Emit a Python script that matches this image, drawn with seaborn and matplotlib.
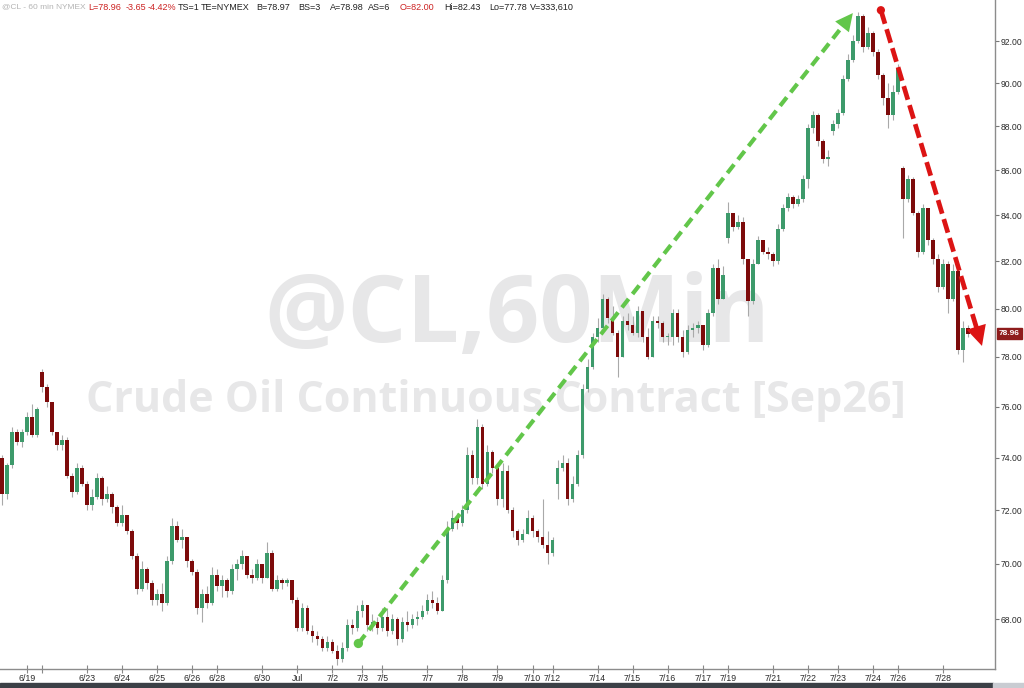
import numpy as np
import pandas as pd
import matplotlib
matplotlib.use("Agg")
import matplotlib.pyplot as plt
import matplotlib.transforms as mtransforms
from matplotlib.patches import Rectangle
import seaborn as sns

# ---------------- data ----------------
close = [72.6, 73.7, 75.0, 74.6, 75.0, 75.6, 74.9, 75.9, 76.8, 76.2,
         75.0, 74.5, 74.7, 73.3, 72.7, 73.6, 73.0, 72.2, 72.5, 73.2,
         72.4, 72.6, 72.1, 71.5, 71.8, 71.2, 70.3, 69.1, 69.8, 69.3,
         68.7, 68.9, 68.6, 70.1, 71.4, 70.9, 71.0, 70.1, 69.7, 68.4,
         68.9, 68.6, 69.6, 69.2, 69.4, 69.0, 69.8, 70.0, 70.3, 69.6,
         69.5, 70.0, 69.5, 70.4, 69.1, 69.4, 69.3, 69.4, 68.7, 67.7,
         68.4, 67.6, 67.4, 67.3, 67.0, 67.2, 66.9, 66.6, 67.0, 67.8,
         67.7, 68.3, 68.5, 67.8, 67.9, 67.7, 68.1, 67.6, 68.0, 67.3,
         67.9, 67.8, 68.0, 68.1, 68.3, 68.7, 68.6, 68.3, 69.4, 71.3,
         71.7, 71.5, 72.0, 74.1, 73.2, 75.2, 73.0, 74.2, 73.6, 72.4,
         73.5, 72.0, 71.2, 70.9, 71.1, 71.7, 71.2, 71.0, 70.7, 70.4,
         70.9, 73.6, 73.8, 72.4, 73.0, 74.1, 76.7, 77.6, 78.8, 79.2,
         80.4, 79.6, 79.0, 78.0, 79.5, 79.3, 79.0, 79.9, 78.8, 78.0,
         79.5, 79.4, 78.8, 78.8, 79.8, 78.8, 78.2, 79.1, 79.2, 79.3,
         78.5, 79.8, 81.7, 80.4, 81.4, 84.1, 83.5, 83.7, 82.1, 80.3,
         81.9, 82.9, 82.4, 82.3, 82.0, 83.4, 84.3, 84.8, 84.5, 84.7,
         85.6, 87.9, 88.5, 87.3, 86.5, 86.6, 88.1, 88.6, 90.2, 91.1,
         92.0, 93.2, 91.7, 92.4, 91.5, 90.4, 89.3, 88.5, 89.6, 90.7,
         84.7, 85.6, 84.1, 82.4, 84.3, 82.9, 82.1, 80.9, 81.9, 80.4,
         81.6, 78.3, 79.2, 78.96]
high = [74.1, 73.8, 75.2, 75.1, 75.1, 75.8, 76.1, 76.0, 77.5, 76.9,
        76.2, 75.0, 74.9, 74.8, 73.4, 73.8, 73.7, 73.1, 72.8, 73.4,
        73.3, 72.9, 72.7, 72.2, 72.2, 71.8, 71.3, 70.4, 70.1, 69.9,
        69.4, 69.1, 69.3, 70.3, 71.7, 71.6, 71.3, 71.0, 70.2, 69.8,
        69.1, 69.2, 69.9, 69.8, 69.6, 69.5, 70.0, 70.2, 70.5, 70.3,
        69.8, 70.2, 70.0, 70.8, 70.5, 69.6, 69.5, 69.5, 69.4, 68.8,
        68.6, 68.5, 67.8, 67.6, 67.4, 67.4, 67.3, 67.1, 67.2, 68.0,
        68.0, 68.5, 68.7, 68.5, 68.2, 68.1, 68.4, 68.4, 68.2, 68.1,
        68.1, 68.3, 68.2, 68.3, 68.5, 68.9, 69.0, 68.8, 69.6, 71.6,
        72.0, 71.9, 72.2, 74.4, 74.3, 75.5, 75.3, 74.5, 74.3, 73.7,
        73.8, 73.7, 72.1, 71.3, 71.3, 72.0, 71.8, 71.3, 72.4, 71.2,
        71.0, 73.9, 74.1, 74.0, 73.3, 74.3, 76.9, 77.9, 79.0, 79.6,
        80.6, 80.5, 80.1, 79.1, 79.7, 79.8, 79.7, 80.1, 79.9, 79.2,
        79.7, 79.7, 79.5, 79.0, 80.0, 80.0, 79.1, 79.3, 79.4, 79.5,
        79.3, 80.0, 81.9, 82.1, 81.8, 84.6, 84.0, 84.0, 83.9, 82.0,
        82.1, 83.1, 82.9, 82.6, 82.4, 83.6, 84.5, 85.0, 84.9, 84.9,
        85.8, 88.1, 88.7, 88.6, 87.4, 86.9, 88.3, 88.8, 90.4, 91.4,
        92.3, 93.4, 93.3, 92.7, 92.5, 91.6, 90.5, 90.0, 89.9, 90.9,
        86.2, 85.8, 85.7, 84.2, 84.5, 84.3, 83.0, 82.3, 82.1, 82.0,
        81.9, 81.7, 79.5, 79.3]
low = [72.2, 72.4, 73.6, 74.5, 74.4, 74.9, 74.8, 74.8, 76.6, 76.0,
       74.9, 74.3, 74.3, 73.2, 72.5, 72.6, 72.9, 72.0, 72.0, 72.4,
       72.2, 72.3, 71.9, 71.4, 71.4, 71.1, 70.2, 68.9, 69.0, 69.1,
       68.5, 68.5, 68.3, 68.5, 70.0, 70.8, 70.6, 69.9, 69.6, 68.2,
       67.9, 68.4, 68.5, 69.0, 68.8, 68.8, 68.9, 69.4, 69.8, 69.5,
       69.3, 69.4, 69.3, 69.5, 69.0, 69.0, 69.1, 69.2, 68.6, 67.6,
       67.6, 67.5, 67.2, 67.1, 66.9, 66.9, 66.8, 66.4, 66.5, 66.9,
       67.5, 67.6, 68.1, 67.6, 67.6, 67.5, 67.6, 67.4, 67.5, 67.1,
       67.2, 67.6, 67.7, 67.8, 68.0, 68.2, 68.4, 68.2, 68.3, 69.3,
       71.2, 71.3, 71.4, 71.9, 73.0, 73.0, 72.8, 72.9, 73.4, 72.2,
       72.1, 71.9, 71.0, 70.7, 70.8, 71.1, 71.0, 70.8, 70.6, 70.0,
       70.3, 72.4, 73.5, 72.2, 72.3, 72.9, 74.0, 76.6, 77.5, 78.6,
       79.2, 79.4, 78.9, 77.2, 78.0, 79.1, 78.9, 78.8, 78.6, 77.9,
       78.0, 79.2, 78.6, 78.5, 78.5, 78.6, 78.0, 78.1, 78.8, 79.0,
       78.3, 78.4, 79.7, 80.2, 80.4, 82.8, 83.3, 83.4, 81.9, 79.7,
       80.2, 81.9, 82.3, 82.1, 81.8, 81.9, 83.3, 84.2, 84.3, 84.4,
       84.6, 85.2, 87.7, 87.1, 86.3, 86.2, 87.6, 87.9, 88.5, 90.1,
       91.0, 91.9, 91.5, 91.6, 91.3, 90.2, 89.0, 87.9, 88.3, 89.5,
       83.0, 84.6, 84.0, 82.2, 82.3, 82.7, 81.9, 80.7, 80.8, 79.8,
       80.3, 78.1, 77.78, 78.8]
# bars whose open is not the previous close (first bar and price gaps)
gap_open = {0: 74.0, 8: 77.4, 111: 73.0, 145: 83.0, 166: 87.8, 180: 86.1}

date_labels = ["6/19", "", "6/23", "6/24", "6/25", "6/26", "6/28", "6/30", "Jul",
               "7/2", "7/3", "7/5", "7/7", "7/8", "7/9", "7/10", "7/12", "7/14",
               "7/15", "7/16", "7/17", "7/19", "7/21", "7/22", "7/23", "7/24",
               "7/26", "7/28"]
date_bars = [5, 8, 17, 24, 31, 38, 43, 52, 59, 66, 72, 76, 85, 92, 99, 106, 110,
             119, 126, 133, 140, 145, 154, 161, 167, 174, 179, 188]
price_ticks = [68, 70, 72, 74, 76, 78, 80, 82, 84, 86, 88, 90, 92]
last_price = 78.96

header_texts = ["@CL - 60 min NYMEX", "L=78.96", "-3.65", "-4.42%", "TS=1",
                "TE=NYMEX", "B=78.97", "BS=3", "A=78.98", "AS=6", "O=82.00",
                "Hi=82.43", "Lo=77.78", "V=333,610"]

# ---------------- styling ----------------
sns.set_theme(style="white")
plt.rcParams['font.family'] = ['Liberation Sans', 'DejaVu Sans']

UP = '#3d9a6b'
DOWN = '#7d0b0b'
WICK = '#a9a9a9'

n = len(close)
opens = [gap_open.get(i, close[i - 1]) for i in range(n)]
df = pd.DataFrame({"bar": np.arange(n), "open": opens, "high": high,
                   "low": low, "close": close})
df["up"] = df["close"] >= df["open"]

W, H = 1024, 688
fig = plt.figure(figsize=(W / 100, H / 100), dpi=100)
ax = fig.add_axes([0, 19 / H, 995 / W, 669 / H])
ax.set_yscale('log')
ax.set_xlim(-0.4, 198.4)
ax.set_ylim(66.26, 94.0)

# watermark
wm = '#e7e7e8'
ax.text(0.52, 0.525, "@CL,60Min", transform=ax.transAxes, ha='center', va='center',
        fontsize=67, fontweight='bold', color=wm, family='Open Sans', zorder=0)
ax.text(0.498, 0.402, "Crude Oil Continuous Contract [Sep26]", transform=ax.transAxes,
        ha='center', va='center', fontsize=31, fontweight='bold', color=wm,
        family='Open Sans', zorder=0)

# candles
ax.vlines(df["bar"], df["low"], df["high"], color=WICK, lw=0.8, zorder=2)
body = (df["close"] - df["open"]).to_numpy()
body = np.where(np.abs(body) < 0.06, np.where(body >= 0, 0.06, -0.06), body)
colors = np.where(df["up"], UP, DOWN)
ax.bar(df["bar"], body, bottom=df["open"], width=0.72, color=colors,
       linewidth=0, zorder=3)

# trend arrows
def draw_arrow(p0, p1, color, lw, dashes, ms, dot):
    t = 0.975
    xb = p0[0] + t * (p1[0] - p0[0])
    yb = np.exp(np.log(p0[1]) + t * (np.log(p1[1]) - np.log(p0[1])))
    ax.plot([p0[0], xb], [p0[1], yb], color=color, lw=lw, dashes=dashes,
            solid_capstyle='butt', dash_capstyle='butt', zorder=5)
    ax.annotate('', xy=p1, xytext=p0,
                arrowprops=dict(arrowstyle='-|>,head_length=0.9,head_width=0.45',
                                color=color, lw=0, shrinkA=0, shrinkB=0,
                                mutation_scale=ms), zorder=6)
    dots = pd.DataFrame({"x": [p0[0]], "y": [p0[1]]})
    sns.scatterplot(data=dots, x="x", y="y", ax=ax, color=color, s=dot,
                    edgecolor='none', zorder=6, legend=False)

draw_arrow((71.2, 67.15), (170.0, 93.36), '#62c64a', 3.0, (2.6, 1.5), 14, 45)
draw_arrow((175.6, 93.5), (195.8, 78.45), '#dc1414', 3.4, (3.0, 1.2), 16, 35)

# axes look
for s in ['top', 'left']:
    ax.spines[s].set_visible(False)
for s in ['right', 'bottom']:
    ax.spines[s].set_color('#8c8c8c')
    ax.spines[s].set_linewidth(1.0)
ax.yaxis.tick_right()
ax.set_yticks(price_ticks)
ax.set_yticklabels([f"{v:.2f}" for v in price_ticks])
ax.yaxis.set_minor_locator(matplotlib.ticker.NullLocator())
ax.tick_params(axis='y', which='major', right=True, left=False, direction='out',
               length=3, width=0.8, color='#777777', pad=1, labelsize=6.2,
               labelcolor='#2a2a2a')
ax.set_xticks(date_bars)
ax.set_xticklabels(date_labels)
ax.tick_params(axis='x', which='major', bottom=True, direction='inout', length=6,
               width=0.8, color='#888888', pad=0.5, labelsize=6.3, labelcolor='#2a2a2a')
ax.set_xlabel('')
ax.set_ylabel('')
ax.grid(False)

# last price tag
trans = mtransforms.blended_transform_factory(ax.transAxes, ax.transData)
ax.text(1.004, last_price, f"{last_price:.2f}", transform=trans, ha='left', va='center',
        fontsize=6, fontweight='bold', color='white', clip_on=False,
        bbox=dict(boxstyle='square,pad=0.25', fc='#8e1c1c', ec='#8e1c1c'))

# header
hx = [2, 88, 126, 148, 178, 201, 256, 298, 330, 368, 400, 444, 489, 530]
hc = ['#b4b4b4', '#cc2222', '#cc2222', '#cc2222', '#222222', '#222222', '#222222',
      '#222222', '#222222', '#222222', '#cc2222', '#222222', '#222222', '#222222']
hs = [6.0] + [6.5] * 13
for x, txt, c, s in zip(hx, header_texts, hc, hs):
    fig.text(x / W, 1 - 7 / H, txt, ha='left', va='center', fontsize=s, color=c)

# bottom scroll bar
fig.patches.append(Rectangle((0, 0), 993 / W, 5 / H, transform=fig.transFigure,
                             color='#3b4046', zorder=0))
fig.patches.append(Rectangle((993 / W, 0), 31 / W, 5 / H, transform=fig.transFigure,
                             color='#c9ccd2', zorder=0))

fig.savefig("out.png", dpi=100)
